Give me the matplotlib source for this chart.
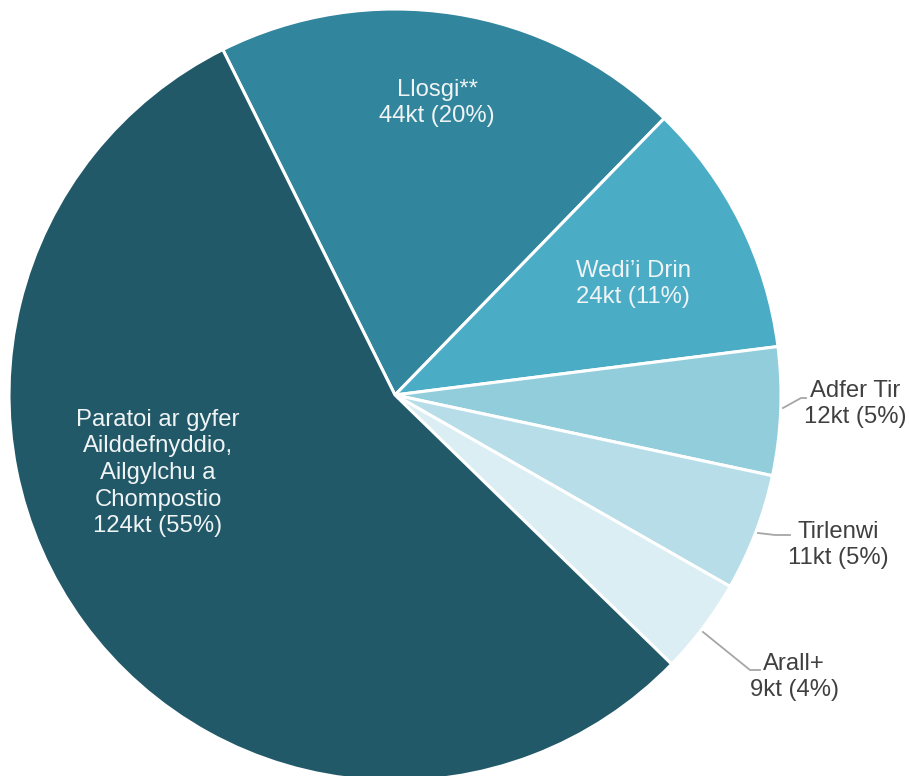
import matplotlib.pyplot as plt

# waste management routes, thousand tonnes
labels = ["Llosgi**", "Wedi\u2019i Drin", "Adfer Tir", "Tirlenwi", "Arall+",
          "Paratoi ar gyfer\nAilddefnyddio,\nAilgylchu a\nChompostio"]
values = [44, 24, 12, 11, 9, 124]
percents = [20, 11, 5, 5, 4, 55]
colors = ["#31859c", "#4bacc6", "#92cddc", "#b7dee8", "#daeef3", "#215968"]

plt.rcParams["font.family"] = ["Liberation Sans", "DejaVu Sans"]

W, H = 909, 776
cx, cy, R = 395, 395, 386

fig = plt.figure(figsize=(W / 100, H / 100), dpi=100)
ax = fig.add_axes([0, 0, 1, 1])

ax.pie(values, colors=colors, startangle=116.5, counterclock=False,
       radius=R, center=(0, 0),
       wedgeprops=dict(edgecolor="white", linewidth=2.2))

# pie() sets its own limits, so put the pixel frame back afterwards
ax.set_xlim(-cx, W - cx)
ax.set_ylim(-(H - cy), cy)
ax.set_aspect("equal")
ax.axis("off")

texts = [l + "\n%dkt (%d%%)" % (v, p) for l, v, p in zip(labels, values, percents)]

# label positions in pixels of the reference picture
inside = {0: (437, 103), 1: (633, 284), 5: (158, 473)}
outside = {2: (855, 404), 3: (838, 545), 4: (794, 677)}
leaders = {2: [(783, 408), (801, 398), (806, 398)],
           3: [(758, 533), (775, 535), (790, 535)],
           4: [(703, 632), (750, 670), (760, 670)]}

for i, (x, y) in inside.items():
    ax.text(x - cx, cy - y, texts[i], ha="center", va="center",
            color="#f0f4f5", fontsize=17.2, linespacing=1.27)

for i, (x, y) in outside.items():
    ax.text(x - cx, cy - y, texts[i], ha="center", va="center",
            color="#404040", fontsize=17.2, linespacing=1.22)
    xs = [p[0] - cx for p in leaders[i]]
    ys = [cy - p[1] for p in leaders[i]]
    ax.plot(xs, ys, color="#a6a6a6", linewidth=1.3)

fig.savefig("out.png", dpi=100)
